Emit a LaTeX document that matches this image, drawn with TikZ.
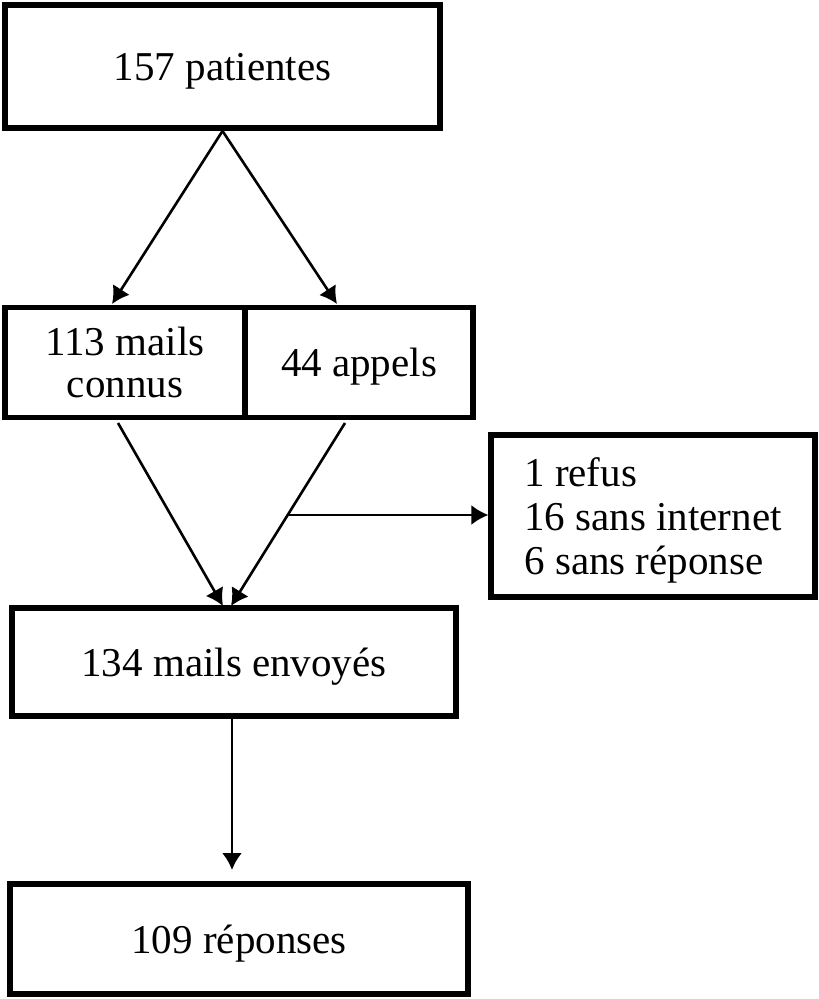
\documentclass[tikz,border=0pt]{standalone}
\usepackage{fontspec}
\setmainfont{Liberation Serif}
\usepackage{tikz}
\usetikzlibrary{arrows.meta}

\begin{document}
\begin{tikzpicture}[x=0.5pt,y=-0.5pt,
 box/.style={draw, line width=2.6pt, inner sep=0pt, text depth=0pt, font=\fontsize{20.5}{21}\selectfont},
 flow/.style={line width=1.3pt, -{Latex[length=8.5pt,width=10pt]}}]
\useasboundingbox (0,0) rectangle (818,999);
% Boxes
\node[box, minimum width=217.5pt, minimum height=61.5pt, line width=3pt] (pat) at (222.5, 66.5) {157 patientes};
\node[box, minimum width=120pt, minimum height=55pt, align=center] (mails) at (125, 362.5) {113 mails\\connus};
\node[box, minimum width=114pt, minimum height=55pt] (appels) at (359, 362.5) {44 appels};
\node[box, minimum width=162pt, minimum height=81pt, align=left, font=\fontsize{20.5}{22}\selectfont] (perdus) at (653, 516) {1 refus\\16 sans internet\\6 sans réponse};
\node[box, minimum width=222pt, minimum height=54pt] (env) at (234, 662) {134 mails envoyés};
\node[box, minimum width=229pt, minimum height=55pt] (rep) at (239, 939) {109 réponses};
% Arrow ends
\coordinate (mailsin) at (112, 304);
\coordinate (appelsin) at (337, 304);
\coordinate (mailsout) at (118, 423);
\coordinate (appelsout) at (345, 423);
\coordinate (envinl) at (223, 606);
\coordinate (envinr) at (231, 606);
\coordinate (split) at (287.5, 515);
\coordinate (envout) at (232, 717);
\coordinate (repin) at (232, 870);
% Connectors
\draw[flow] (pat.south) -- (mailsin);
\draw[flow] (pat.south) -- (appelsin);
\draw[flow] (mailsout) -- (envinl);
\draw[flow] (appelsout) -- (envinr);
\draw[flow] (split) -- (split -| perdus.west);
\draw[flow] (envout) -- (repin);
\end{tikzpicture}
\end{document}
